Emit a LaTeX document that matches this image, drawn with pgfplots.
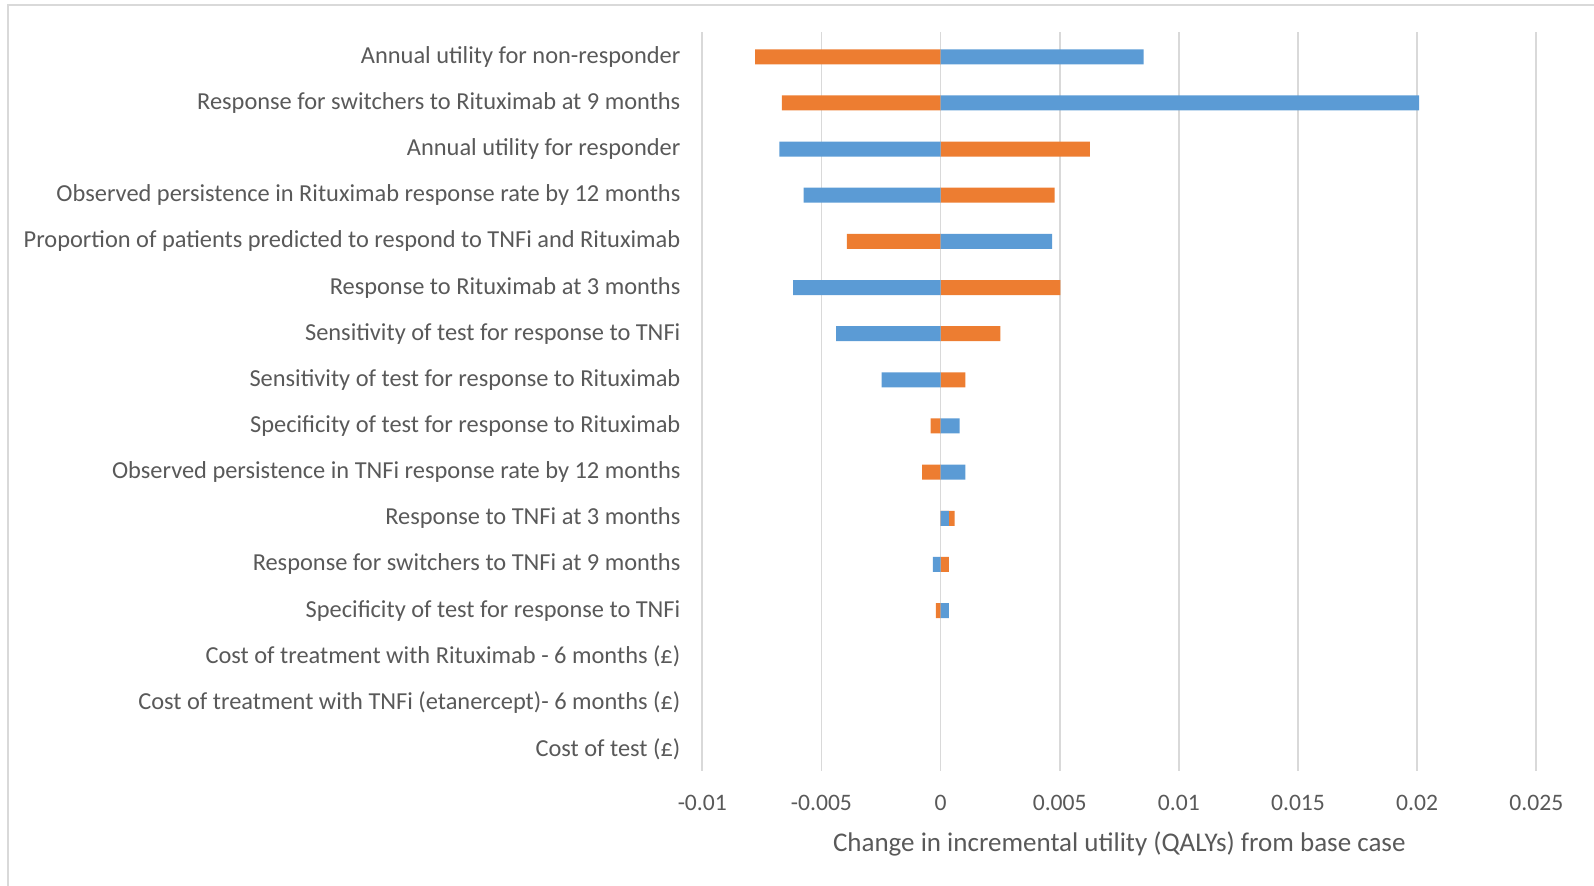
\documentclass[border=0pt]{standalone}
\usepackage{fontspec}
\setmainfont{Carlito}
\usepackage{pgfplots}
\pgfplotsset{compat=1.18}

\definecolor{barblue}{HTML}{5B9BD5}
\definecolor{barorange}{HTML}{ED7D31}
\definecolor{txtgray}{HTML}{595959}
\definecolor{gridgray}{HTML}{D9D9D9}

\begin{document}
\begin{tikzpicture}
\path[use as bounding box] (0,0) rectangle (797pt,443pt);
% chart frame
\draw[gridgray, line width=1pt] (4pt,0) -- (4pt,440.25pt) -- (797pt,440.25pt);
\begin{axis}[
  at={(351.15pt,57.65pt)}, anchor=south west,
  scale only axis, width=417pt, height=369.2pt,
  xmin=-0.01, xmax=0.025,
  ymin=0.47, ymax=16.47, y dir=reverse,
  xbar, bar width=7.5pt, bar shift=0pt,
  axis line style={draw=none}, tick style={draw=none},
  xmajorgrids, grid style={gridgray, line width=0.9pt},
  scaled x ticks=false,
  xtick={-0.01,-0.005,0,0.005,0.01,0.015,0.02,0.025},
  xticklabels={-0.01,-0.005,0,0.005,0.01,0.015,0.02,0.025},
  xticklabel style={font=\fontsize{11.8}{13}\selectfont, text=txtgray, anchor=center, yshift=-16pt},
  ytick={1,...,16},
  yticklabels={
    Annual utility for non-responder,
    Response for switchers to Rituximab at 9 months,
    Annual utility for responder,
    Observed persistence in Rituximab response rate by 12 months,
    Proportion of patients predicted to respond to TNFi and Rituximab,
    Response to Rituximab at 3 months,
    Sensitivity of test for response to TNFi,
    Sensitivity of test for response to Rituximab,
    Specificity of test for response to Rituximab,
    Observed persistence in TNFi response rate by 12 months,
    Response to TNFi at 3 months,
    Response for switchers to TNFi at 9 months,
    Specificity of test for response to TNFi,
    Cost of treatment with Rituximab - 6 months (£),
    Cost of treatment with TNFi (etanercept)- 6 months (£),
    Cost of test (£)},
  yticklabel style={font=\fontsize{12.2}{14}\selectfont, text=txtgray, anchor=east, inner sep=0pt, xshift=-6.5pt},
  xlabel={Change in incremental utility (QALYs) from base case},
  xlabel style={font=\fontsize{13.5}{15}\selectfont, text=txtgray, at={(axis description cs:0.5,0)}, anchor=center, yshift=-36.65pt},
]
% orange series (drawn first); the three cost parameters have no effect
\addplot[fill=barorange, draw=none] coordinates {
  (-0.00778,1) (-0.00666,2) (0.00626,3) (0.00479,4) (-0.00393,5)
  (0.00503,6) (0.00251,7) (0.00104,8) (-0.00042,9) (-0.00077,10)
  (0.00059,11) (0.00035,12) (-0.00020,13)};
% blue series (on top)
\addplot[fill=barblue, draw=none] coordinates {
  (0.00852,1) (0.02008,2) (-0.00677,3) (-0.00575,4) (0.00468,5)
  (-0.00619,6) (-0.00438,7) (-0.00247,8) (0.00080,9) (0.00104,10)
  (0.00035,11) (-0.00032,12) (0.00035,13)};
\end{axis}
\end{tikzpicture}
\end{document}
